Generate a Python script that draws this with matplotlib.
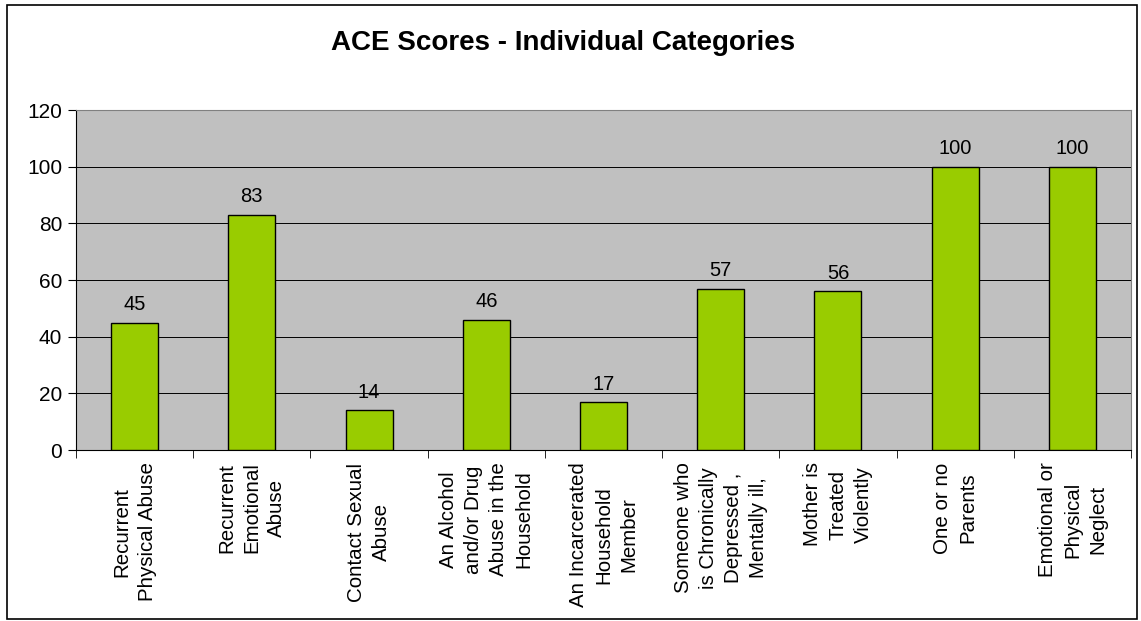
import matplotlib.pyplot as plt
from matplotlib.patches import Rectangle

categories = [
    "Recurrent\nPhysical Abuse",
    "Recurrent\nEmotional\nAbuse",
    "Contact Sexual\nAbuse",
    "An Alcohol\nand/or Drug\nAbuse in the\nHousehold",
    "An Incarcerated\nHousehold\nMember",
    "Someone who\nis Chronically\nDepressed ,\nMentally ill,",
    "Mother is\nTreated\nViolently",
    "One or no\nParents",
    "Emotional or\nPhysical\nNeglect",
]
scores = [45, 83, 14, 46, 17, 57, 56, 100, 100]
y_ticks = [0, 20, 40, 60, 80, 100, 120]

plt.rcParams['font.family'] = ['Liberation Sans', 'DejaVu Sans']

W, H = 1141, 621
fig = plt.figure(figsize=(W / 100, H / 100), dpi=100)
# plot area in pixels: x 76..1131, y 110..450
ax = fig.add_axes([76 / W, 1 - 450 / H, (1131 - 76) / W, (450 - 110) / H])

x = list(range(len(scores)))
bars = ax.bar(x, scores, width=0.40, color='#99CC00', edgecolor='black', linewidth=1.0, zorder=3)
ax.bar_label(bars, labels=[str(v) for v in scores], padding=6, fontsize=14.5)

ax.set_facecolor('#C0C0C0')
ax.set_xlim(-0.5, len(scores) - 0.5)
ax.set_ylim(0, 120)
ax.set_yticks(y_ticks)
ax.tick_params(axis='y', labelsize=15, length=6, direction='out', pad=4)
ax.yaxis.grid(True, color='black', linewidth=0.7, zorder=0)

# labels at category centres, ticks at boundaries
ax.set_xticks(x)
ax.set_xticklabels(categories, rotation=90, fontsize=14.8, multialignment='center', linespacing=1.4)
ax.tick_params(axis='x', which='major', length=0, pad=9)
ax.set_xticks([i - 0.5 for i in range(len(scores) + 1)], minor=True)
ax.tick_params(axis='x', which='minor', length=6, direction='out')

ax.spines['top'].set_color('#808080')
ax.spines['right'].set_color('#808080')
ax.spines['left'].set_color('black')
ax.spines['bottom'].set_color('black')

fig.text(563 / W, 1 - 43 / H, 'ACE Scores - Individual Categories', ha='center', va='center',
         fontsize=20, fontweight='bold')

fig.patches.append(Rectangle((7 / W, 2 / H), (1137 - 7) / W, (619 - 5) / H, transform=fig.transFigure,
                             fill=False, edgecolor='black', linewidth=1.2))

fig.savefig('out.png', dpi=100)
